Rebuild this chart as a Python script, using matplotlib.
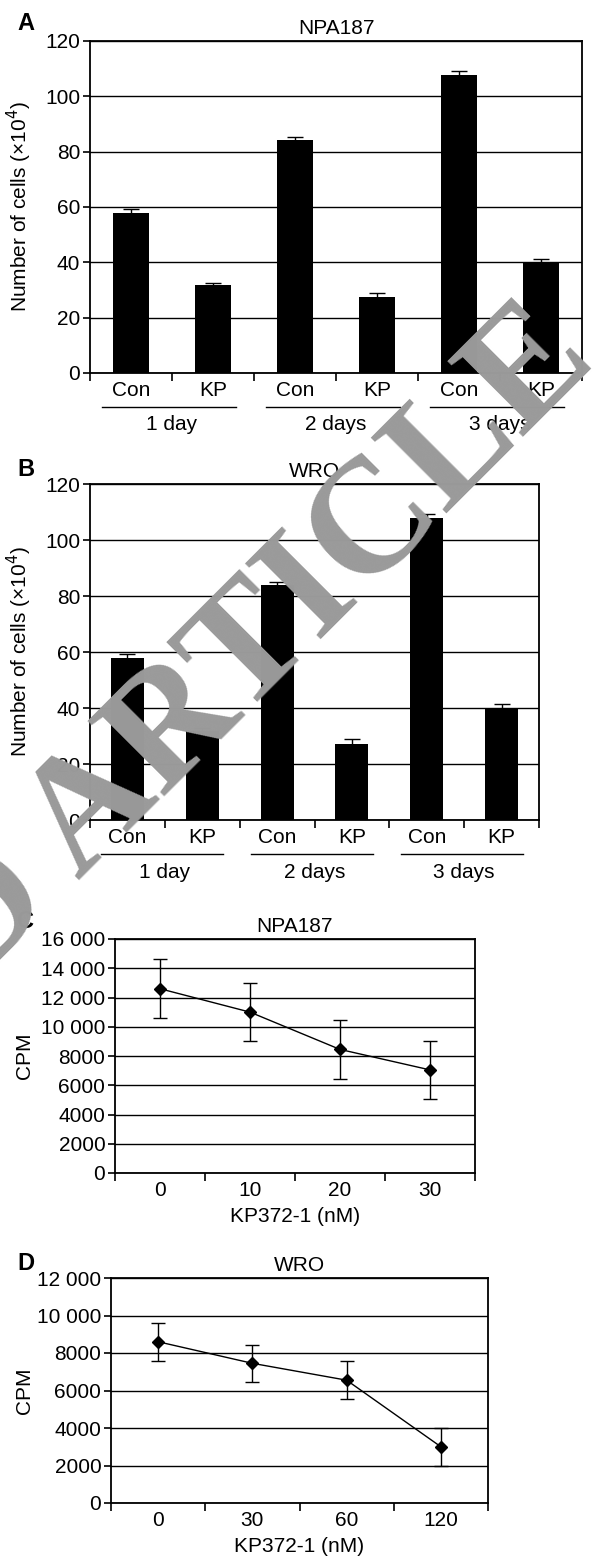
import matplotlib
matplotlib.use("Agg")
import matplotlib.pyplot as plt
import numpy as np

plt.rcParams["font.family"] = ["Liberation Sans", "DejaVu Sans"]
plt.rcParams["font.size"] = 15

# Dados dos painéis A e B (número de células x10^4)
TRATAMENTOS = ["Con", "KP", "Con", "KP", "Con", "KP"]
DIAS = ["1 day", "2 days", "3 days"]
npa_celulas = [57.7, 31.7, 84.2, 27.3, 107.7, 39.7]
npa_erros = [1.5, 1.0, 1.0, 1.6, 1.6, 1.4]
wro_celulas = [57.7, 31.7, 84.1, 27.3, 107.7, 39.8]
wro_erros = [1.5, 1.0, 1.0, 1.6, 1.5, 1.5]

# Dados dos painéis C e D (CPM)
npa_doses = ["0", "10", "20", "30"]
npa_cpm = [12600, 11000, 8450, 7050]
npa_cpm_erros = [2000, 2000, 2000, 2000]
wro_doses = ["0", "30", "60", "120"]
wro_cpm = [8600, 7450, 6550, 3000]
wro_cpm_erros = [1000, 1000, 1000, 1000]

W, H = 608, 1561
fig = plt.figure(figsize=(W / 100, H / 100), dpi=100)


def caixa(esq, topo, dir, base):
    # converte pixels (origem no canto superior esquerdo) para fração da figura
    return [esq / W, 1 - base / H, (dir - esq) / W, (base - topo) / H]


def estilo_eixo(ax):
    for lado in ax.spines.values():
        lado.set_linewidth(1.3)
        lado.set_color("black")
    ax.yaxis.grid(True, color="black", linewidth=1.0)
    ax.set_axisbelow(True)
    ax.tick_params(axis="y", direction="out", length=5, width=1.2, pad=2)
    ax.tick_params(axis="x", which="major", direction="out", length=6, width=1.2)
    ax.tick_params(axis="x", which="minor", length=0, pad=6)


def painel_barras(rect, titulo, valores, erros, altura_px, largura_px):
    ax = fig.add_axes(rect)
    x = np.arange(len(valores))
    ax.bar(x, valores, width=0.44, color="black", zorder=3)
    ax.errorbar(x, valores, yerr=erros, fmt="none", ecolor="black",
                elinewidth=1, capsize=6, capthick=1, zorder=4)
    ax.set_xlim(-0.5, len(valores) - 0.5)
    ax.set_ylim(0, 120)
    ax.set_yticks(range(0, 121, 20))
    ax.set_xticks(np.arange(-0.5, len(valores)), [])
    ax.set_xticks(x, TRATAMENTOS, minor=True)
    estilo_eixo(ax)
    ax.set_title(titulo, pad=5, fontsize=15)
    ax.set_ylabel("Number of cells (\u00d710$^4$)")
    # centro do rótulo em x = 25 px
    ax.yaxis.set_label_coords(-(90 - 34) / largura_px, 0.5)

    trans = ax.get_xaxis_transform()
    for i, dia in enumerate(DIAS):
        con, kp = 2 * i, 2 * i + 1
        ax.plot([con - 0.35, kp + 0.28], [-34 / altura_px] * 2, transform=trans,
                color="black", linewidth=1, clip_on=False)
        ax.text((con + kp) / 2, -52 / altura_px, dia, transform=trans,
                ha="center", va="center")
    return ax


def painel_linhas(rect, titulo, doses, valores, erros, ymax, yticks, ylabels,
                  largura_px, esq_px):
    ax = fig.add_axes(rect)
    x = np.arange(len(valores))
    ax.errorbar(x, valores, yerr=erros, color="black", linewidth=1,
                elinewidth=1, capsize=5, capthick=1, marker="D", markersize=6,
                zorder=4)
    ax.set_xlim(-0.5, len(valores) - 0.5)
    ax.set_ylim(0, ymax)
    ax.set_yticks(yticks, ylabels)
    ax.set_xticks(np.arange(-0.5, len(valores)), [])
    ax.set_xticks(x, doses, minor=True)
    estilo_eixo(ax)
    ax.set_title(titulo, pad=5, fontsize=15)
    ax.set_ylabel("CPM")
    ax.yaxis.set_label_coords(-(esq_px - 34) / largura_px, 0.5)
    ax.set_xlabel("KP372-1 (nM)", labelpad=5)
    return ax


# Painel A
painel_barras(caixa(90, 41, 582, 373), "NPA187", npa_celulas, npa_erros, 332, 492)
# Painel B
painel_barras(caixa(90, 484, 539, 820), "WRO", wro_celulas, wro_erros, 336, 449)
# Painel C
painel_linhas(caixa(115, 939, 475, 1173), "NPA187", npa_doses, npa_cpm,
              npa_cpm_erros, 16000, range(0, 16001, 2000),
              ["0", "2000", "4000", "6000", "8000", "10 000", "12 000",
               "14 000", "16 000"], 360, 115)
# Painel D
painel_linhas(caixa(111, 1278, 488, 1503), "WRO", wro_doses, wro_cpm,
              wro_cpm_erros, 12000, range(0, 12001, 2000),
              ["0", "2000", "4000", "6000", "8000", "10 000", "12 000"],
              377, 111)

# Letras dos painéis
for letra, y_px in [("A", 23), ("B", 470), ("C", 922), ("D", 1263)]:
    fig.text(17 / W, 1 - y_px / H, letra, fontsize=17, fontweight="bold",
             ha="left", va="center")

# Marca d'água
fig.text(598 / W, 1 - 362 / H, "ACCEPTED ARTICLE", fontsize=117,
         fontweight="bold", family=["Liberation Serif", "DejaVu Serif"],
         color="#9a9a9a", rotation=45, rotation_mode="anchor",
         ha="right", va="baseline")

fig.savefig("out.png", dpi=100)
